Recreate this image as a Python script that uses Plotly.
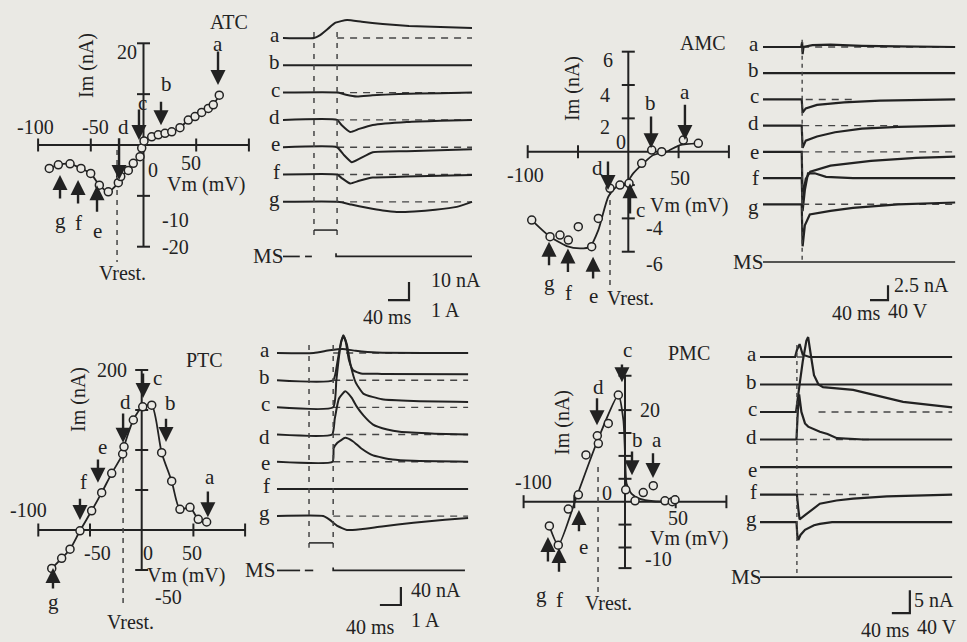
import plotly.graph_objects as go

W, H = 967, 642
INK = "#222222"
SOFT = "#454545"
BG = "#eae9e4"
FONT = "Liberation Serif"

# ---------------- I-V relations (Vm in mV, Im in nA) ----------------
ATC_VM = [-89.4, -80.8, -69.7, -59.3, -50.1, -41.9, -33.4, -23.9, -21.6, -14.4, -9.7, -3.3,
          -1.7, 0.5, 7.8, 14.0, 20.4, 26.8, 34.6, 42.5, 48.9, 55.2, 61.5, 66.2, 71.9]
ATC_IM = [-4.6, -3.9, -3.7, -4.6, -5.6, -7.9, -9.2, -7.4, -6.2, -5.0, -3.6, -2.3,
          -0.6, 0.8, 1.6, 2.0, 2.3, 2.6, 3.4, 4.9, 5.6, 6.4, 7.2, 7.9, 9.8]

AMC_VM = [-96.0, -77.8, -67.9, -59.6, -49.7, -36.4, -29.8, -18.2, -8.3, 0.7, 13.3, 23.3, 33.2, 54.7, 69.6]
AMC_IM = [-4.1, -5.1, -5.0, -5.3, -4.5, -5.7, -4.0, -2.2, -2.0, -1.9, -0.7, 0.1, 0.0, 0.7, 0.5]
AMC_FIT_VM = [-96.0, -77.8, -61.2, -48.0, -38.1, -29.8, -19.9, -11.7, -1.7, 4.9, 14.9, 24.8, 38.1, 51.3, 69.6]
AMC_FIT_IM = [-4.1, -5.1, -5.66, -5.8, -5.7, -4.7, -2.7, -2.1, -1.86, -1.3, -0.7, -0.2, 0.0, 0.4, 0.5]

PTC_VM = [-87, -77.4, -69.3, -59.7, -48.4, -38.7, -29, -18.4, -17.1, -8.1, 1, 9.7,
          19.3, 29, 37, 46.7, 54.7, 62.8]
PTC_IM = [-48, -35.4, -24, -1, 24, 46.7, 70.8, 95, 104, 137.5, 154, 156,
          96.7, 61, 25.8, 28.3, 13.3, 10]

PMC_VM = [-74.6, -65.8, -55.9, -46, -38.5, -27.3, -26.3, -16.5, -6.6, 0.7, 9.9, 18, 27.9, 39.4, 46.6, 49.3]
PMC_IM = [-5.3, -9.5, -1.6, 1.5, 10.2, 14.4, 12.7, 17.1, 23.3, 2.6, 0.2, 2.0, 3.5, 0.2, 0, 0.4]
PMC_FIT_VM = [-74.6, -65.8, -47.7, -26.3, -6.6, -1.6, 0, 1.6, 6.6, 14.8, 28, 47.7]
PMC_FIT_IM = [-5.3, -9.5, 1.1, 13.8, 23.3, 17.8, 10.6, 3.9, 1.7, 0.6, 0.1, 0]

# resting potentials (mV)
ATC_VREST, AMC_VREST, PTC_VREST, PMC_VREST = -25.1, -18.2, -18.0, -26.6

# holding-step arrows: label -> (Vm, arrow tail Im, arrow head Im)
ATC_ARROWS = {"a": (70.7, 18.7, 11.8), "b": (16.6, 8.8, 3.9), "c": (-4.3, 7.3, 1.0),
              "d": (-23.2, 1.6, -6.9), "e": (-44.1, -13.4, -7.9), "f": (-62.1, -11.8, -6.9),
              "g": (-79.2, -10.8, -5.9)}
AMC_ARROWS = {"a": (56.3, 2.9, 0.7), "b": (22.6, 2.2, 0.2), "d": (-20.2, -0.5, -2.3),
              "c": (1.7, -3.8, -1.9), "e": (-35.0, -7.7, -6.3), "f": (-60.0, -7.3, -5.8),
              "g": (-78.8, -6.9, -5.4)}
PTC_ARROWS = {"a": (64, 50, 16), "b": (23.5, 141, 110), "c": (1.3, 197.5, 165),
              "d": (-18, 147.5, 109), "e": (-42.3, 90, 59), "f": (-59.7, 41, 12.5),
              "g": (-85.8, -75, -47.5)}
PMC_ARROWS = {"a": (27.6, 10.9, 5.2), "b": (6.9, 11.3, 5.8), "c": (-3, 30.3, 26.1),
              "d": (-27.6, 22.9, 16.7), "e": (-45.4, -6.8, -1.8), "f": (-65.1, -15.6, -10.1),
              "g": (-76, -13.4, -7.7)}

# ---------------- membrane current traces (t in ms, I in nA from baseline) ----------------
ATC_TRACES = {
    "a": ([0, 59, 70, 85, 100, 122, 150, 190, 240, 300, 360], [0, 0, 1.5, 5, 8.5, 10, 9, 7.8, 6.7, 6.1, 5.6]),
    "b": ([0, 360], [0, 0]),
    "c": ([0, 105, 120, 141, 170, 220, 300, 360], [0, 0, -1.2, -2.2, -1.5, -0.8, -0.3, 0]),
    "d": ([0, 103, 112, 128, 145, 171, 236, 300, 360], [0, 0, -3, -6.7, -5, -2.8, -1.1, -0.4, 0]),
    "e": ([0, 103, 115, 131, 145, 171, 236, 360], [0, 0, -4, -8.3, -6.5, -2.8, -2.2, -1.1]),
    "f": ([0, 103, 112, 128, 145, 171, 236, 360], [0, 0, -2, -5, -3.5, -1.7, -1.1, -0.3]),
    "g": ([0, 105, 130, 160, 190, 217, 250, 290, 331, 360], [0, 0, -1.5, -3.3, -4.8, -5.6, -5.3, -4.4, -2.8, 0]),
}
AMC_TRACES = {
    "a": ([0, 85, 87, 88, 90, 110, 150, 220, 300, 427], [0, 0, 0.8, -1.2, 0, 0.3, 0.4, 0.2, 0.1, 0]),
    "b": ([0, 427], [0, 0]),
    "c": ([0, 86, 88, 95, 120, 180, 260, 427], [0, 0, -2.2, -1.5, -0.9, -0.5, -0.2, 0]),
    "d": ([0, 86, 88, 95, 120, 160, 220, 300, 427], [0, 0, -3.7, -2.5, -1.8, -1.1, -0.5, -0.2, 0]),
    "e": ([0, 86, 88, 95, 105, 150, 240, 340, 427], [0, 0, -7.5, -4.5, -3.3, -2.3, -1.5, -1.0, -0.8]),
    "f": ([0, 86, 88, 93, 100, 115, 140, 200, 427], [0, 0, -5.5, -2, 0.8, 0.8, 0.2, 0, 0]),
    "g": ([0, 86, 88, 93, 104, 150, 200, 300, 427], [0, 0, -7, -3.5, -1.7, -1.1, -0.6, 0, 0.3]),
}
PTC_TRACES = {
    "a": ([0, 70, 100, 125, 150, 190, 364], [0, 0, 6, 9, 5, 1, 0]),
    "b": ([0, 107, 115, 122, 127, 131, 137, 145, 160, 200, 364], [0, 0, 40, 85, 98, 85, 45, 22, 15, 14, 13]),
    "c": ([0, 107, 113, 120, 126, 133, 140, 150, 165, 200, 260, 364], [0, 0, 60, 130, 160, 140, 95, 55, 30, 18, 14, 12]),
    "d": ([0, 105, 110, 118, 130, 142, 152, 165, 183, 210, 234, 300, 364], [0, 0, 35, 80, 96, 82, 62, 42, 22, 11, 6, 2, 0]),
    "e": ([0, 106, 108, 115, 130, 145, 160, 183, 220, 260, 364], [0, 0, 30, 42, 53, 45, 30, 14, 5, 2, 0]),
    "f": ([0, 364], [0, 0]),
    "g": ([0, 88, 100, 115, 133, 160, 200, 260, 320, 364], [0, 0, -8, -22, -31, -29, -23, -15, -8, -4]),
}
PMC_TRACES = {
    "a": ([0, 78, 82, 88, 95, 110, 427], [0, 0, 1.5, 2.8, 0.5, 0, 0]),
    "b": ([0, 427], [0, 0]),
    "c": ([0, 80, 88, 95, 103, 107, 112, 120, 130, 140, 207, 244, 318, 427],
          [0, 0, 6, 11, 15.5, 16.3, 13, 8, 6, 5.4, 4.8, 3.9, 2.2, 1.0]),
    "d": ([0, 81, 84, 87, 92, 100, 107, 133, 150, 171, 230, 427], [0, 0, 6, 9.8, 6, 3.5, 2.8, 1.7, 1.2, 0.3, 0, 0]),
    "e": ([0, 427], [0, 0]),
    "f": ([0, 82, 85, 88, 100, 111, 133, 170, 207, 282, 427], [0, 0, -3, -5.4, -4.5, -3.7, -2, -1.3, -0.9, -0.4, 0]),
    "g": ([0, 81, 83, 85, 90, 100, 120, 133, 160, 427], [0, 0, -3, -3.9, -2.8, -1.7, -0.7, -0.4, 0, 0]),
}

SCALE_NA = {"ATC": 10, "AMC": 2.5, "PTC": 40, "PMC": 5}
SCALE_MS = 40
STIM_UNIT = {"ATC": "1 A", "AMC": "40 V", "PTC": "1 A", "PMC": "40 V"}

fig = go.Figure()
_axes = []


def make_axes(ox, oy, sx, sy):
    """Axis pair spanning the whole canvas; (ox, oy) is the pixel of the data origin."""
    n = len(_axes) + 1
    s = "" if n == 1 else str(n)
    fig.update_layout(**{
        "xaxis" + s: dict(range=[-ox / sx, (W - ox) / sx], domain=[0, 1], visible=False,
                          fixedrange=True, anchor="y" + s),
        "yaxis" + s: dict(range=[(oy - H) / sy, oy / sy], domain=[0, 1], visible=False,
                          fixedrange=True, anchor="x" + s),
    })
    ax = dict(x="x" + s, y="y" + s, sx=sx, sy=sy)
    _axes.append(ax)
    return ax


def line(ax, xs, ys, width=1.8, color=INK, dash=None, shape="linear", smooth=0.0):
    fig.add_trace(go.Scatter(x=xs, y=ys, xaxis=ax["x"], yaxis=ax["y"], mode="lines",
                             line=dict(color=color, width=width, dash=dash, shape=shape,
                                       smoothing=smooth if shape == "spline" else None),
                             hoverinfo="skip", showlegend=False, cliponaxis=False))


def ptext(text, x, y, size=21, anchor="center", angle=0):
    fig.add_annotation(x=x / W, y=1 - y / H, xref="paper", yref="paper", text=text,
                       showarrow=False, xanchor=anchor, yanchor="middle", textangle=angle,
                       font=dict(family=FONT, size=size, color=INK), borderpad=0)


def iv_panel(geom, xlim, ylim, xticks, yticks, vm, im, fit, vrest, vrest_span,
             arrows, texts, labels):
    ax = make_axes(*geom)
    sx, sy = ax["sx"], ax["sy"]
    t = 6.5
    xs, ys = [xlim[0], xlim[1], None, 0, 0, None], [0, 0, None, ylim[0], ylim[1], None]
    for v in xticks:
        xs += [v, v, None]
        ys += [-t / sy, t / sy, None]
    for v in yticks:
        xs += [-t / sx, t / sx, None]
        ys += [v, v, None]
    line(ax, xs, ys, width=2.0)
    line(ax, [vrest, vrest], vrest_span, width=1.5, color=SOFT, dash="5px,5px")
    if fit is None:
        line(ax, vm, im, width=1.8, shape="spline", smooth=0.7)
    else:
        line(ax, fit[0], fit[1], width=1.8, shape="spline", smooth=0.6)
    fig.add_trace(go.Scatter(x=vm, y=im, xaxis=ax["x"], yaxis=ax["y"], mode="markers",
                             marker=dict(symbol="circle", size=8, color=BG,
                                         line=dict(color=INK, width=1.5)),
                             hoverinfo="skip", showlegend=False, cliponaxis=False))
    for k, (v, tail, head) in arrows.items():
        fig.add_annotation(x=v, y=head, ax=v, ay=tail, xref=ax["x"], yref=ax["y"],
                           axref=ax["x"], ayref=ax["y"], text="", showarrow=True,
                           arrowhead=2, arrowsize=1.25, arrowwidth=2.4, arrowcolor=INK)
    for txt, x, y, *rest in texts:
        anchor = rest[0] if rest else "center"
        angle = rest[1] if len(rest) > 1 else 0
        ptext(txt, x, y, size=20, anchor=anchor, angle=angle)
    for k, (x, y) in labels.items():
        ptext(k, x, y)


def trace_panel(geom, traces, spacing, ms_row, shape, dashed, ms_pieces,
                scale_corner, name, label_x, label_dy, ms_label_x, scale_texts, width=2.0):
    ax = make_axes(*geom)
    for i, k in enumerate(traces):
        base = -i * spacing
        if k in dashed:
            t0, t1 = dashed[k]
            line(ax, [t0, t1], [base, base], width=1.4, color=SOFT, dash="7px,6px")
        ts, vals = traces[k]
        line(ax, ts, [base + v for v in vals], width=width, shape=shape, smooth=0.45)
        ptext(k, label_x, geom[1] - (base * geom[3]) - label_dy.get(k, 3), anchor="right")
    ms_y = -ms_row * spacing
    for piece in ms_pieces:
        line(ax, piece, [ms_y] * len(piece), width=1.7)
    ptext("MS", ms_label_x, geom[1] - ms_y * geom[3], anchor="right")
    tc, yc = scale_corner
    line(ax, [tc - SCALE_MS, tc, tc], [yc, yc, yc + SCALE_NA[name]], width=2.2)
    for txt, x, y, anchor in scale_texts:
        ptext(txt, x, y, size=20, anchor=anchor)
    return ax


# ================= ATC =================
iv_panel((143.5, 145, 1.054, 5.085), (-100, 100), (-20, 20), [-100, -50, 50, 100], [-20, -10, 10, 20],
         ATC_VM, ATC_IM, None, ATC_VREST, [-1, -23], ATC_ARROWS,
         [("ATC", 229, 22), ("-100", 35, 127), ("-50", 95, 127), ("0", 153, 170), ("50", 191, 163),
          ("20", 127, 52), ("-10", 175, 220), ("-20", 175, 247), ("Vm (mV)", 166, 185, "left"),
          ("Im (nA)", 86, 66, "center", -90), ("Vrest.", 122, 273)],
         {"a": (218, 44), "b": (166, 84), "c": (142, 103), "d": (123, 127), "e": (97, 231),
          "f": (78, 223), "g": (60, 221)})
atc = trace_panel((283, 38, 0.525, 1.8), ATC_TRACES, 15.17, 8, "spline",
                  {k: (103, 360) for k in "acdefg"},
                  [[0, 32], [42, 55]], (240, -145.6), "ATC", 281, {}, 284,
                  [(f"{SCALE_NA['ATC']} nA", 430, 280, "left"), (f"{SCALE_MS} ms", 387, 317, "center"),
                   (STIM_UNIT["ATC"], 430, 310, "left")])
ms_atc = -8 * 15.17
line(atc, [101, 101, 360], [ms_atc + 1.8, ms_atc, ms_atc], width=1.7)
for tv in (59, 103):
    line(atc, [tv, tv], [3.3, -110.6], width=1.5, color=SOFT, dash="5px,6px")
line(atc, [59, 103], [-106.7, -106.7], width=1.5)

# ================= AMC =================
iv_panel((628.3, 151.7, 1.006, 16.67), (-100, 100), (-6, 6), [-100, -50, 50, 100], [-6, -4, -2, 2, 4, 6],
         AMC_VM, AMC_IM, (AMC_FIT_VM, AMC_FIT_IM), AMC_VREST, [-2.3, -8.0], AMC_ARROWS,
         [("AMC", 703, 43), ("6", 608, 60), ("4", 605, 95), ("2", 605, 127), ("0", 621, 142),
          ("-4", 654, 228), ("-6", 654, 264), ("-100", 525, 175), ("50", 680, 178),
          ("Vm (mV)", 649, 205, "left"), ("Im (nA)", 573, 89, "center", -90), ("Vrest.", 630, 298)],
         {"a": (685, 92), "b": (650, 103), "d": (597, 168), "c": (640, 210), "e": (593, 296),
          "f": (568, 293), "g": (549, 283)})
amc = trace_panel((763, 47, 0.45, 6.0), AMC_TRACES, 4.37, 8.2, "linear",
                  {"a": (87, 427), "c": (95, 200), "d": (87, 300), "e": (87, 427), "g": (87, 427)},
                  [[0, 427]], (277.8, -42.2), "AMC", 760, {"e": 0, "f": 0, "g": -3}, 764,
                  [(f"{SCALE_NA['AMC']} nA", 893, 285, "left"), (f"{SCALE_MS} ms", 856, 313, "center"),
                   (STIM_UNIT["AMC"], 908, 311, "center")], width=2.2)
line(amc, [87, 87], [1.2, -35.8], width=1.4, color=SOFT, dash="4px,4px")

# ================= PTC =================
iv_panel((141.7, 530, 1.034, 0.8), (-100, 100), (-50, 200), [-100, -50, 50, 100], [-50, 50, 100, 150, 200],
         PTC_VM, PTC_IM, None, PTC_VREST, [90, -96], PTC_ARROWS,
         [("PTC", 204, 360), ("200", 112, 370), ("-100", 28, 510), ("-50", 97, 553), ("0", 148, 553),
          ("50", 192, 553), ("-50", 168, 597), ("Vm (mV)", 146, 575, "left"),
          ("Im (nA)", 78, 400, "center", -90), ("Vrest.", 130, 622)],
         {"a": (210, 477), "b": (170, 403), "c": (157, 378), "d": (125, 402), "e": (102, 447),
          "f": (83, 482), "g": (53, 602)})
ptc = trace_panel((277, 353, 0.525, 0.45), PTC_TRACES, 60.4, 8, "spline",
                  {k: (107, 364) for k in "abcdeg"},
                  [[0, 44], [53, 69]], (236, -560), "PTC", 271, {"d": -2, "e": -1}, 276,
                  [(f"{SCALE_NA['PTC']} nA", 410, 590, "left"), (f"{SCALE_MS} ms", 370, 627, "center"),
                   (STIM_UNIT["PTC"], 410, 620, "left")])
ms_ptc = -8 * 60.4
line(ptc, [107, 107, 358], [ms_ptc + 6.7, ms_ptc, ms_ptc], width=1.7)
for tv in (61, 107):
    line(ptc, [tv, tv], [17.8, -433], width=1.5, color=SOFT, dash="5px,6px")
line(ptc, [61, 107], [-422, -422], width=1.5)

# ================= PMC =================
iv_panel((625, 501.7, 1.014, 4.58), (-100, 100), (-14.5, 27.5), [-100, -50, 50, 100],
         [-14.5, -10, -5, 5, 10, 15, 20, 27.5],
         PMC_VM, PMC_IM, (PMC_FIT_VM, PMC_FIT_IM), PMC_VREST, [7.6, -20], PMC_ARROWS,
         [("PMC", 689, 353), ("-100", 533, 482), ("0", 607, 493), ("50", 678, 518), ("20", 650, 410),
          ("-10", 658, 559), ("Vm (mV)", 649, 538, "left"), ("Im (nA)", 562, 423, "center", -90),
          ("Vrest.", 608, 603)],
         {"c": (627, 350), "d": (598, 387), "b": (637, 440), "a": (657, 440), "e": (583, 547),
          "f": (559, 600), "g": (541, 595)})
pmc = trace_panel((760, 357, 0.45, 4.6), PMC_TRACES, 5.98, 8, "linear",
                  {"a": (82, 200), "c": (130, 427), "d": (82, 250), "f": (82, 250)},
                  [[0, 427]], (333, -55.7), "PMC", 758, {"e": -3}, 762,
                  [(f"{SCALE_NA['PMC']} nA", 913, 600, "left"), (f"{SCALE_MS} ms", 885, 630, "center"),
                   (STIM_UNIT["PMC"], 937, 627, "center")], width=2.2)
line(pmc, [82, 82], [2.6, -47.8], width=1.4, color=SOFT, dash="4px,4px")

fig.update_layout(width=W, height=H, margin=dict(l=0, r=0, t=0, b=0),
                  paper_bgcolor=BG, plot_bgcolor="rgba(0,0,0,0)", showlegend=False)
fig.write_html("out.html")
